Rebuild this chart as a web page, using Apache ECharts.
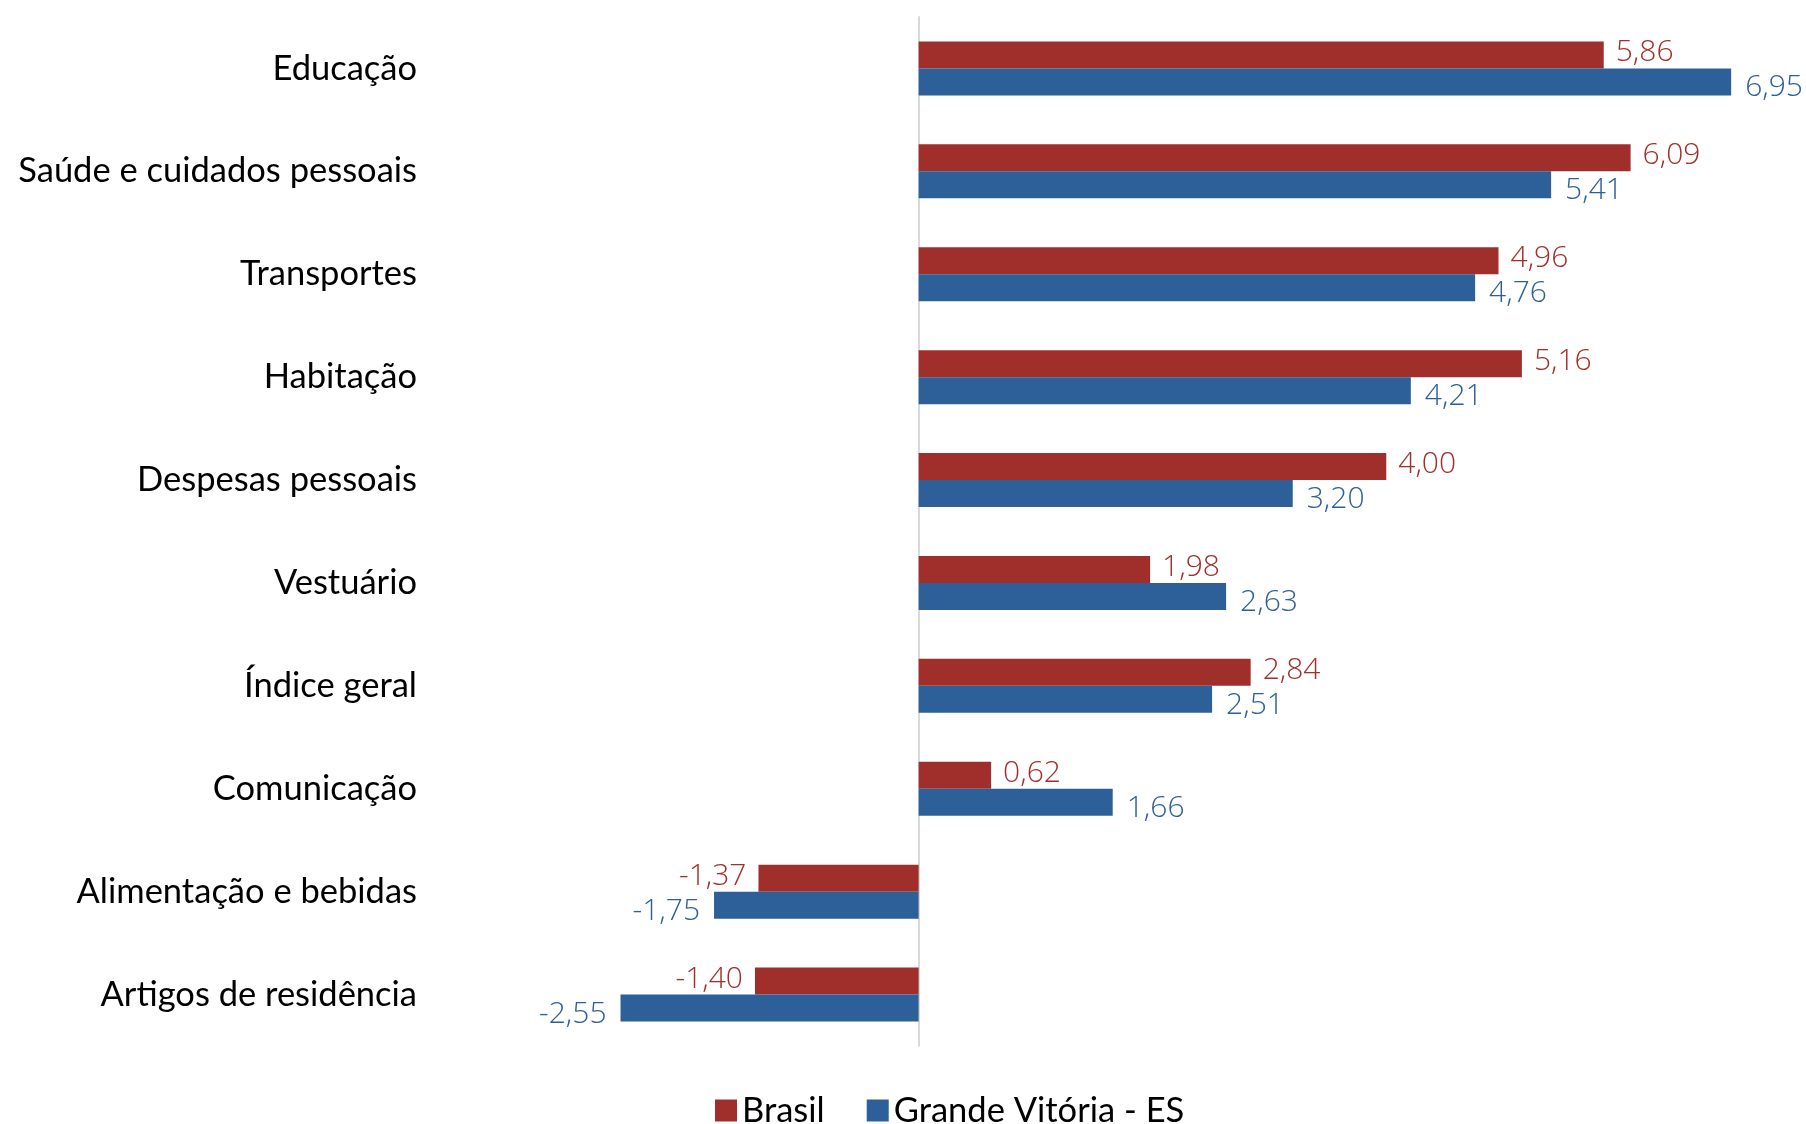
<!DOCTYPE html>
<html><head><meta charset="utf-8">
<script src="https://cdn.jsdelivr.net/npm/echarts@6/dist/echarts.min.js"></script>
<style>html,body{margin:0;padding:0;background:#fff}#c{width:1806px;height:1124px}</style>
</head><body><div id="c"></div>
<script>
const categories = ["Educação","Saúde e cuidados pessoais","Transportes","Habitação","Despesas pessoais","Vestuário","Índice geral","Comunicação","Alimentação e bebidas","Artigos de residência"];
const brasil = [5.86,6.09,4.96,5.16,4.00,1.98,2.84,0.62,-1.37,-1.40];
const grandeVitoria = [6.95,5.41,4.76,4.21,3.20,2.63,2.51,1.66,-1.75,-2.55];
const seriesNames = ["Brasil","Grande Vitória - ES"];

const RED = '#A02F2C', BLUE = '#2D5F98';
const fmt = p => p.value.toFixed(2).replace('.', ',');
const withSide = arr => arr.map(v => v < 0 ? {value:v, label:{position:'left'}} : v);
const chart = echarts.init(document.getElementById('c'));
chart.setOption({
  animation:false,
  grid:{left:451, right:69, top:17, bottom:78, containLabel:false},
  xAxis:{type:'value', min:-4, max:7, show:true, axisLabel:{show:false}, splitLine:{show:false}, axisLine:{show:false}, axisTick:{show:false}},
  yAxis:{type:'category', data:categories, inverse:true,
    axisLine:{show:true, onZero:true, lineStyle:{color:'#d9d9d9', width:2}},
    axisTick:{show:false},
    axisLabel:{color:'#000', fontFamily:'Lato', fontSize:34.5, margin:34, align:'right'},
  },
  legend:{top:1088, left:710, itemWidth:22, itemHeight:22, itemGap:42, icon:'rect',
    textStyle:{fontFamily:'Lato', fontSize:34.5, color:'#000'}, data:seriesNames},
  series:[
    {name:seriesNames[0], type:'bar', data:withSide(brasil), barWidth:27, barGap:'0%',
      itemStyle:{color:RED},
      label:{show:true, position:'right', distance:12, color:RED, fontFamily:'Open Sans', fontWeight:300, fontSize:30, formatter:fmt, offset:[0,-2]}},
    {name:seriesNames[1], type:'bar', data:withSide(grandeVitoria), barWidth:27, barGap:'0%',
      itemStyle:{color:BLUE},
      label:{show:true, position:'right', distance:14, color:BLUE, fontFamily:'Open Sans', fontWeight:300, fontSize:30, formatter:fmt, offset:[0,6]}}
  ]
});
</script></body></html>
